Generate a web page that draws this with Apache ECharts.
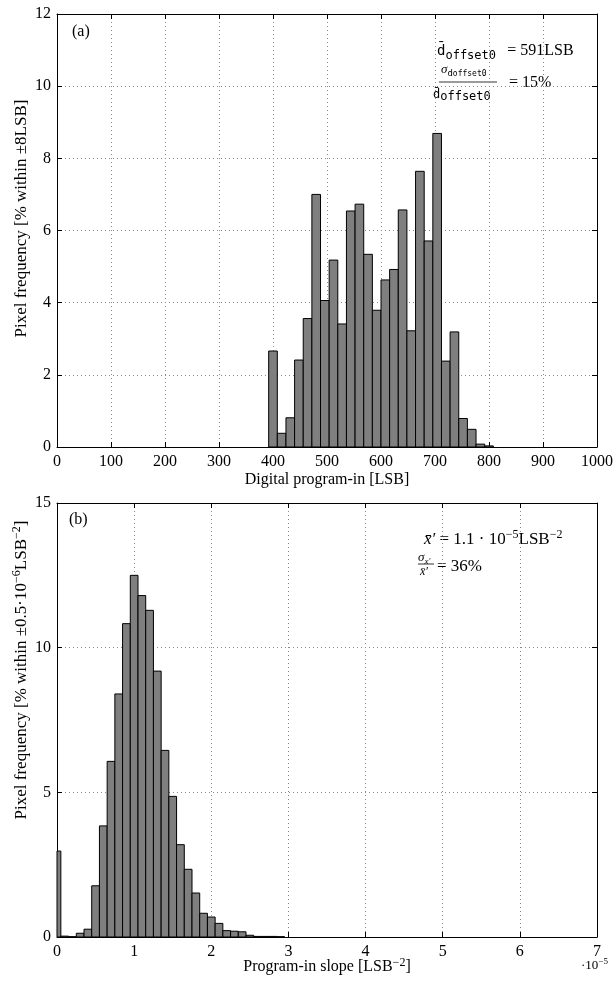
<!DOCTYPE html>
<html><head><meta charset="utf-8">
<script src="https://cdn.jsdelivr.net/npm/echarts@6/dist/echarts.min.js"></script>
<style>html,body{margin:0;padding:0;background:#fff}#c{width:613px;height:985px}</style>
</head><body><div id="c"></div>
<script>
// ---- Data: panel (a) digital program-in offset histogram ----
const offsetBinCenters = [400,416,432,448,464,480,496,512,528,544,560,576,592,608,624,640,656,672,688,704,720,736,752,768,784,800];
const offsetFreq = [2.66,0.38,0.81,2.41,3.56,7.00,4.06,5.18,3.41,6.54,6.73,5.34,3.79,4.63,4.92,6.57,3.22,7.64,5.71,8.69,2.38,3.19,0.79,0.49,0.08,0.03];
const offsetBinWidth = 16;
const offsetXTicks = [0,100,200,300,400,500,600,700,800,900,1000];
const offsetYTicks = [0,2,4,6,8,10,12];

// ---- Data: panel (b) program-in slope histogram (x in units of 1e-5) ----
const slopeBinCenters = [0,0.1,0.2,0.3,0.4,0.5,0.6,0.7,0.8,0.9,1.0,1.1,1.2,1.3,1.4,1.5,1.6,1.7,1.8,1.9,2.0,2.1,2.2,2.3,2.4,2.5,2.6,2.7,2.8,2.9];
const slopeFreq = [2.97,0.03,0.01,0.13,0.27,1.77,3.84,6.07,8.40,10.83,12.50,11.80,11.29,9.19,6.45,4.86,3.19,2.34,1.52,0.82,0.69,0.47,0.22,0.20,0.18,0.06,0.02,0.02,0.02,0.01];
const slopeBinWidth = 0.1;
const slopeXTicks = [0,1,2,3,4,5,6,7];
const slopeYTicks = [0,5,10,15];

const SERIF = 'Liberation Serif';
const MONO = 'DejaVu Sans Mono';

function histItem(binW) {
  return function (params, api) {
    const x = api.value(0), y = api.value(1);
    const p0 = api.coord([x - binW / 2, y]);
    const p1 = api.coord([x + binW / 2, 0]);
    const rect = { x: p0[0], y: p0[1], width: p1[0] - p0[0], height: p1[1] - p0[1] };
    const cs = params.coordSys;
    const shape = echarts.graphic.clipRectByRect(rect, { x: cs.x, y: cs.y, width: cs.width, height: cs.height });
    return shape && { type: 'rect', shape: shape, style: { fill: '#7f7f7f', stroke: '#000', lineWidth: 1 } };
  };
}

const gridLine = { show: true, lineStyle: { color: '#8a8a8a', type: [1, 3], width: 1 } };
const axisLine = { show: true, onZero: false, lineStyle: { color: '#000', width: 1 } };
const tick = { show: true, inside: true, length: 5, lineStyle: { color: '#000' } };
const lbl = { color: '#000', fontFamily: SERIF, fontSize: 16, formatter: v => String(v) };
const supStyle = { fontFamily: SERIF, fontSize: 12, lineHeight: 12, verticalAlign: 'top', color: '#000' };

function mainX(grid, ticks, name, gap) {
  return {
    type: 'value', gridIndex: grid, min: ticks[0], max: ticks[ticks.length - 1],
    interval: ticks[1] - ticks[0], position: 'bottom',
    axisLine: axisLine, axisTick: tick, splitLine: gridLine,
    axisLabel: Object.assign({ margin: 7 }, lbl),
    name: name, nameLocation: 'middle', nameGap: gap, nameMoveOverlap: false,
    nameTextStyle: { color: '#000', fontFamily: SERIF, fontSize: 16, lineHeight: 20, rich: { sup: supStyle } }
  };
}
function mainY(grid, ticks, name, pad) {
  return {
    type: 'value', gridIndex: grid, min: ticks[0], max: ticks[ticks.length - 1],
    interval: ticks[1] - ticks[0], position: 'left',
    axisLine: axisLine, axisTick: tick, splitLine: gridLine,
    axisLabel: Object.assign({ margin: 6 }, lbl),
    name: name, nameLocation: 'middle', nameGap: 24, nameRotate: 90, nameMoveOverlap: false,
    nameTextStyle: { color: '#000', fontFamily: SERIF, fontSize: 17, lineHeight: 22, padding: [0, 0, 0, pad], rich: { sup: supStyle } }
  };
}
function boxX(grid, ticks) {
  return { type: 'value', gridIndex: grid, min: ticks[0], max: ticks[ticks.length - 1], interval: ticks[1] - ticks[0],
    position: 'top', axisLine: axisLine, axisTick: tick, axisLabel: { show: false }, splitLine: { show: false } };
}
function boxY(grid, ticks) {
  return { type: 'value', gridIndex: grid, min: ticks[0], max: ticks[ticks.length - 1], interval: ticks[1] - ticks[0],
    position: 'right', axisLine: axisLine, axisTick: tick, axisLabel: { show: false }, splitLine: { show: false } };
}

const chart = echarts.init(document.getElementById('c'), null, { renderer: 'canvas' });

function rtxt(x, y, text, rich, extra) {
  return { type: 'text', x: x, y: y, silent: true,
    style: Object.assign({ text: text, rich: rich, fill: '#000', align: 'left', verticalAlign: 'middle',
      fontFamily: SERIF, fontSize: 16 }, extra || {}) };
}
const R = {
  t:    { fontFamily: SERIF, fontSize: 16, lineHeight: 22, verticalAlign: 'middle', color: '#000' },
  tb:   { fontFamily: SERIF, fontSize: 17, lineHeight: 22, verticalAlign: 'middle', color: '#000' },
  ti:   { fontFamily: SERIF, fontSize: 17, lineHeight: 22, verticalAlign: 'middle', color: '#000', fontStyle: 'italic' },
  md:   { fontFamily: MONO, fontSize: 14, lineHeight: 22, verticalAlign: 'middle', color: '#000' },
  msub: { fontFamily: MONO, fontSize: 12, lineHeight: 12, verticalAlign: 'bottom', color: '#000' },
  sup:  { fontFamily: SERIF, fontSize: 12, lineHeight: 13, verticalAlign: 'top', color: '#000' },
  fs:   { fontFamily: SERIF, fontSize: 13, lineHeight: 16, verticalAlign: 'middle', color: '#000', fontStyle: 'italic' },
  fsub: { fontFamily: MONO, fontSize: 9, lineHeight: 9, verticalAlign: 'bottom', color: '#000' },
  fsub2:{ fontFamily: MONO, fontSize: 8, lineHeight: 6, verticalAlign: 'bottom', color: '#000' },
  fd:   { fontFamily: MONO, fontSize: 12, lineHeight: 16, verticalAlign: 'middle', color: '#000' },
  fdsub:{ fontFamily: MONO, fontSize: 12, lineHeight: 12, verticalAlign: 'bottom', color: '#000' },
  xs:   { fontFamily: SERIF, fontSize: 9, lineHeight: 8, verticalAlign: 'bottom', color: '#000', fontStyle: 'italic' },
  xd:   { fontFamily: SERIF, fontSize: 12, lineHeight: 14, verticalAlign: 'middle', color: '#000', fontStyle: 'italic' }
};

const graphics = [
  rtxt(72, 32, '{t|(a)}', R),
  // mean offset line
  rtxt(437, 51, '{md|d\u0304}{msub|offset0}{t|  \u2009= 591LSB}', R),
  // sigma / mean fraction
  rtxt(441, 70, '{fs|\u03c3}{fsub|d}{fsub2|offset0}', R),
  { type: 'line', silent: true, shape: { x1: 439, y1: 82, x2: 497, y2: 82 }, style: { stroke: '#000', lineWidth: 0.8 } },
  rtxt(433, 95, '{fd|d\u0304}{fdsub|offset0}', R),
  rtxt(509, 83, '{t|= 15%}', R),

  rtxt(69, 520, '{t|(b)}', R),
  rtxt(424, 540, '{ti|x\u0304\u2032}{tb| = 1.1 \u00b7 10}{sup|\u22125}{tb|LSB}{sup|\u22122}', R),
  rtxt(418, 558, '{fs|\u03c3}{xs|x\u2032}', R),
  { type: 'line', silent: true, shape: { x1: 418, y1: 564, x2: 434, y2: 564 }, style: { stroke: '#000', lineWidth: 0.8 } },
  rtxt(420, 572, '{xd|x\u0304\u2032}', R),
  rtxt(437, 567, '{tb|= 36%}', R),
  // exponent of bottom x axis
  rtxt(581, 966, '{e|\u00b710}{es|\u22125}', {
    e:  { fontFamily: SERIF, fontSize: 13, lineHeight: 18, verticalAlign: 'middle', color: '#000' },
    es: { fontFamily: SERIF, fontSize: 9, lineHeight: 10, verticalAlign: 'top', color: '#000' }
  })
];

chart.setOption({
  animation: false,
  backgroundColor: '#fff',
  grid: [
    { left: 57, right: 16, top: 14, height: 433, containLabel: false, outerBoundsMode: 'none' },
    { left: 57, right: 16, top: 503, height: 434, containLabel: false, outerBoundsMode: 'none' }
  ],
  xAxis: [
    mainX(0, offsetXTicks, 'Digital program-in [LSB]', 23),
    mainX(1, slopeXTicks, 'Program-in slope [LSB{sup|\u22122}]', 20),
    boxX(0, offsetXTicks),
    boxX(1, slopeXTicks)
  ],
  yAxis: [
    mainY(0, offsetYTicks, 'Pixel frequency [% within \u00b18LSB]', 24),
    mainY(1, slopeYTicks, 'Pixel frequency [% within \u00b10.5\u00b710{sup|\u22126}LSB{sup|\u22122}]', 100),
    boxY(0, offsetYTicks),
    boxY(1, slopeYTicks)
  ],
  series: [
    { type: 'custom', xAxisIndex: 0, yAxisIndex: 0, renderItem: histItem(offsetBinWidth),
      encode: { x: 0, y: 1 }, data: offsetBinCenters.map((c, i) => [c, offsetFreq[i]]), z: 3 },
    { type: 'custom', xAxisIndex: 1, yAxisIndex: 1, renderItem: histItem(slopeBinWidth),
      encode: { x: 0, y: 1 }, data: slopeBinCenters.map((c, i) => [c, slopeFreq[i]]), z: 3 }
  ],
  graphic: graphics
});
</script>
</body></html>
